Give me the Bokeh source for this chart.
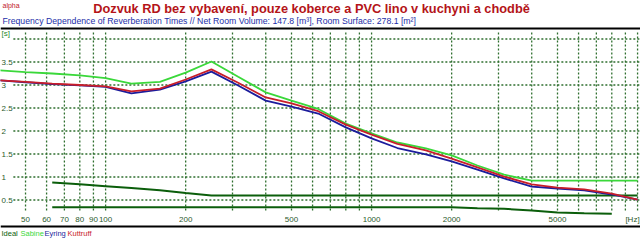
from bokeh.plotting import figure
from bokeh.models import Range1d, Label, Span
from bokeh.embed import file_html
from bokeh.resources import INLINE

# ---- data ----
bands = [40, 50, 63, 80, 100, 125, 160, 200, 250, 315, 400, 500, 630, 800,
         1000, 1250, 1600, 2000, 2500, 3150, 4000, 5000, 6300, 8000, 10000]
sabine = [3.32, 3.28, 3.25, 3.21, 3.15, 3.03, 3.07, 3.27, 3.51, 3.18, 2.84, 2.66, 2.48, 2.16,
          1.95, 1.75, 1.62, 1.47, 1.25, 1.05, 0.92, 0.92, 0.92, 0.92, 0.92]
eyring = [3.10, 3.06, 3.02, 2.99, 2.96, 2.82, 2.90, 3.08, 3.29, 2.99, 2.66, 2.53, 2.38, 2.08,
          1.84, 1.63, 1.49, 1.34, 1.16, 0.97, 0.79, 0.75, 0.71, 0.62, 0.51]
kuttruff = [3.10, 3.07, 3.03, 3.00, 2.97, 2.86, 2.92, 3.12, 3.34, 3.05, 2.73, 2.60, 2.43, 2.14,
            1.92, 1.72, 1.58, 1.40, 1.21, 1.01, 0.84, 0.77, 0.73, 0.64, 0.51]

ideal_up_f = [63, 80, 100, 125, 160, 200, 250, 315, 400, 500, 630, 800, 1000, 1250, 1600,
              2000, 2500, 3150, 4000, 5000, 6300, 8000, 10000]
ideal_up = [0.88, 0.84, 0.80, 0.76, 0.71, 0.65, 0.60, 0.60, 0.60, 0.60, 0.60, 0.60, 0.60,
            0.60, 0.60, 0.60, 0.60, 0.60, 0.60, 0.60, 0.60, 0.60, 0.60]
ideal_lo_f = [63, 80, 100, 125, 160, 200, 250, 315, 400, 500, 630, 800, 1000, 1250, 1600,
              2000, 2500, 3150, 4000, 5000, 6300, 8000]
ideal_lo = [0.34, 0.34, 0.34, 0.34, 0.34, 0.34, 0.34, 0.34, 0.34, 0.34, 0.34, 0.34, 0.34,
            0.34, 0.34, 0.34, 0.32, 0.31, 0.27, 0.23, 0.21, 0.20]

y_ticks = [3.5, 3.0, 2.5, 2.0, 1.5, 1.0, 0.5]
y_tick_labels = ["3.5", "3", "2.5", "2", "1.5", "1", "0.5"]
y_grid = [4.0, 3.5, 3.0, 2.5, 2.0, 1.5, 1.0, 0.5]
x_grid = [50, 60, 70, 80, 90, 100, 200, 300, 400, 500, 600, 700, 800, 900,
          1000, 2000, 3000, 4000, 5000, 6000, 7000, 8000, 9000, 10000]
x_ticks = [50, 60, 70, 80, 90, 100, 200, 500, 1000, 2000, 5000]
x_tick_labels = ["50", "60", "70", "80", "90", "100", "200", "500", "1000", "2000", "5000"]

title = "Dozvuk RD bez vybavení, pouze koberce a PVC lino v kuchyni a chodbě"
subtitle = ("Frequency Dependence of Reverberation Times // Net Room Volume: 147.8 [m³], "
            "Room Surface: 278.1 [m²]")
legend_names = ["Ideal", "Sabine", "Eyring", "Kuttruff"]

# ---- styles ----
FONT = "Liberation Sans"
C_IDEAL = "#0b5e0b"
C_SAB = "#3ad83a"
C_EYR = "#1c1c9c"
C_KUT = "#c81e2a"
C_GRID = "#2f6f2f"
C_TICK = "#2c5a2c"
legend_colors = [C_IDEAL, C_SAB, C_EYR, C_KUT]
legend_x = [1, 20, 44, 67]

W, H = 640, 241
p = figure(width=W, height=H, x_axis_type="log", output_backend="svg",
           toolbar_location=None, min_border=0,
           x_range=Range1d(40.26, 10257), y_range=Range1d(-0.402, 4.837))
p.axis.visible = False
p.grid.visible = False
p.outline_line_color = None
p.background_fill_color = "white"
p.border_fill_color = "white"

# grid
p.segment(x0=[45] * len(y_grid), x1=[10257] * len(y_grid), y0=y_grid, y1=y_grid,
          line_color=C_GRID, line_width=1.3, line_dash="2 2")
p.segment(x0=x_grid, x1=x_grid, y0=[0.27] * len(x_grid), y1=[4.18] * len(x_grid),
          line_color=C_GRID, line_width=1.3, line_dash="2 2")

# ideal band
p.line(ideal_up_f, ideal_up, line_color=C_IDEAL, line_width=2)
p.line(ideal_lo_f, ideal_lo, line_color=C_IDEAL, line_width=2)

# curves
p.line(bands, sabine, line_color=C_SAB, line_width=1.8)
p.line(bands, eyring, line_color=C_EYR, line_width=1.8)
p.line(bands, kuttruff, line_color=C_KUT, line_width=1.8)

# frame lines
p.add_layout(Span(location=H - 28, location_units="screen", dimension="width",
                  line_color="black", line_width=2))
p.add_layout(Span(location=H - 226, location_units="screen", dimension="width",
                  line_color="black", line_width=2))

# tick labels
for v, t in zip(y_ticks, y_tick_labels):
    p.add_layout(Label(x=1, x_units="screen", y=v, y_units="data", text=t,
                       text_font=FONT, text_font_size="8px", text_color=C_TICK,
                       text_baseline="middle", text_align="left"))
p.add_layout(Label(x=1, x_units="screen", y=H - 33, y_units="screen", text="[s]",
                   text_font=FONT, text_font_size="8px", text_color="#1f8a1f",
                   text_baseline="middle", text_align="left"))
for f, t in zip(x_ticks, x_tick_labels):
    p.add_layout(Label(x=f, x_units="data", y=H - 219, y_units="screen", text=t,
                       text_font=FONT, text_font_size="8px", text_color=C_TICK,
                       text_baseline="middle", text_align="center"))
p.add_layout(Label(x=632, x_units="screen", y=H - 219, y_units="screen", text="[Hz]",
                   text_font=FONT, text_font_size="8px", text_color=C_TICK,
                   text_baseline="middle", text_align="center"))

# titles
p.add_layout(Label(x=2, x_units="screen", y=H - 5, y_units="screen", text="alpha",
                   text_font=FONT, text_font_size="7px", text_color="#c0202a",
                   text_baseline="middle", text_align="left"))
p.add_layout(Label(x=311, x_units="screen", y=H - 8, y_units="screen", text=title,
                   text_font=FONT, text_font_size="12.8px", text_font_style="bold",
                   text_color="#b41418", text_baseline="middle", text_align="center"))
p.add_layout(Label(x=2, x_units="screen", y=H - 20, y_units="screen", text=subtitle,
                   text_font=FONT, text_font_size="8.7px", text_color="#1c2ea8",
                   text_baseline="middle", text_align="left"))

# legend
for name, c, lx in zip(legend_names, legend_colors, legend_x):
    p.add_layout(Label(x=lx, x_units="screen", y=H - 233, y_units="screen", text=name,
                       text_font=FONT, text_font_size="7.5px", text_color=c,
                       text_baseline="middle", text_align="left"))

open("out.html", "w").write(file_html(p, INLINE))
